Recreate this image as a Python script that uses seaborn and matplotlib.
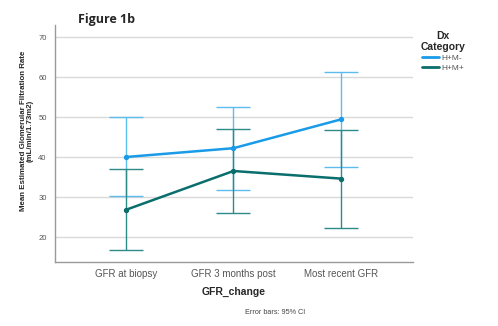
import matplotlib
matplotlib.use("Agg")
import matplotlib.pyplot as plt
import seaborn as sns
import pandas as pd
import numpy as np

categories = ["GFR at biopsy", "GFR 3 months post", "Most recent GFR"]
groups = ["H+M-", "H+M+"]
mean_hm_neg = [40.0, 42.2, 49.4]
low_hm_neg = [30.3, 31.8, 37.6]
high_hm_neg = [49.9, 52.6, 61.2]
mean_hm_pos = [26.8, 36.5, 34.6]
low_hm_pos = [16.8, 25.9, 22.3]
high_hm_pos = [37.0, 47.1, 46.8]
yticks = [20, 30, 40, 50, 60, 70]

line_colors = {"H+M-": "#1a9be8", "H+M+": "#0a6e6c"}
err_colors = {"H+M-": "#5cbcee", "H+M+": "#2d8a88"}

df = pd.DataFrame({
    "GFR_change": categories * 2,
    "Dx": [groups[0]] * 3 + [groups[1]] * 3,
    "mean": mean_hm_neg + mean_hm_pos,
    "low": low_hm_neg + low_hm_pos,
    "high": high_hm_neg + high_hm_pos,
})

sns.set_theme(style="white")
plt.rcParams['font.family'] = ['Liberation Sans', 'DejaVu Sans']

fig = plt.figure(figsize=(4.98, 3.26), dpi=100)
ax = fig.add_axes([55/498, 1 - 262/326, (413-55)/498, (262-25)/326])

for g in groups:
    sub = df[df["Dx"] == g]
    ax.errorbar(x=np.arange(len(categories)), y=sub["mean"],
                yerr=[sub["mean"] - sub["low"], sub["high"] - sub["mean"]],
                fmt="none", ecolor=err_colors[g], elinewidth=1.0,
                capsize=12.5, capthick=1.0, zorder=2)

sns.pointplot(data=df, x="GFR_change", y="mean", hue="Dx", order=categories,
              hue_order=groups, palette=line_colors, errorbar=None,
              markers="o", markersize=2.5, linewidth=1.8, ax=ax, zorder=3)

ax.set_xlim(-0.66, 2.67)
ax.set_ylim(13.75, 73)
ax.set_yticks(yticks)
ax.set_yticklabels([str(t) for t in yticks], fontsize=5.5, color="#555555")
ax.tick_params(axis="x", labelsize=7, colors="#555555", length=0, pad=5)
ax.tick_params(axis="y", length=0, pad=6)
ax.grid(axis="y", color="#d9d9d9", linewidth=1.0)
ax.set_axisbelow(True)
for s in ["top", "right"]:
    ax.spines[s].set_visible(False)
for s in ["left", "bottom"]:
    ax.spines[s].set_color("#9a9a9a")
    ax.spines[s].set_linewidth(1.0)

ax.set_xlabel("GFR_change", fontsize=7.5, fontweight="bold", labelpad=6)
ax.set_ylabel("Mean Estimated Glomerular Filtration Rate\n(mL/min/1.73m2)",
              fontsize=5.7, fontweight="bold", linespacing=0.95,
              family=["Liberation Sans Narrow", "Liberation Sans", "DejaVu Sans"])
ax.yaxis.set_label_coords(-0.059, 0.553)

fig.text(78/498, 1 - 20/326, "Figure 1b", fontsize=9, fontweight="bold",
         ha="left", va="center", family=["Open Sans", "DejaVu Sans"])
fig.text(275/498, 1 - 313/326, "Error bars: 95% CI", fontsize=5.2,
         color="#444444", ha="center", va="center")

handles, labels = ax.get_legend_handles_labels()
leg = ax.legend(handles, labels, title="Dx\nCategory", loc="upper left",
                bbox_to_anchor=(1.005, 1.0), frameon=False, fontsize=6,
                title_fontproperties={"weight": "bold", "size": 7.5},
                handlelength=2.0, handletextpad=0.3, labelspacing=0.25,
                borderaxespad=0.3)
leg._legend_box.align = "center"
leg.get_title().set_multialignment("center")
for t in leg.get_texts():
    t.set_color("#555555")
for h in leg.legend_handles:
    h.set_marker("")
    h.set_linewidth(2)

fig.savefig("out.png", dpi=100)
